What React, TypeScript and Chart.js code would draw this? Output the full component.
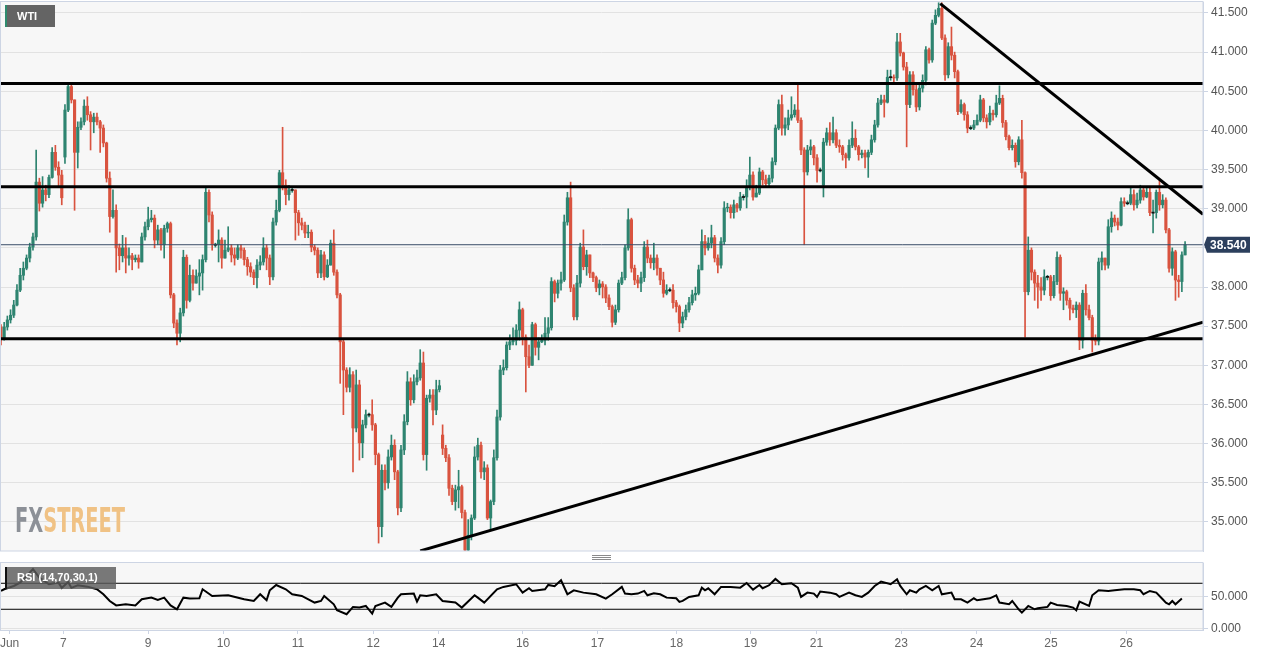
import React, { useEffect, useRef } from 'react';
import { Chart, registerables } from 'chart.js';
Chart.register(...registerables);

// ---------- DATA (hourly WTI candles) ----------
const firstOpen = 37.49;
const closes = [
  37.35,37.49,37.58,37.64,37.77,37.96,38.15,38.24,38.37,38.51,
  38.64,39.34,39.07,39.24,39.18,39.40,39.72,39.53,39.43,39.14,
  40.26,40.56,40.39,39.72,40.04,40.11,40.31,40.20,40.11,40.17,
  40.11,40.03,39.84,39.39,38.90,38.98,38.50,38.40,38.50,38.37,
  38.40,38.35,38.37,38.32,38.64,38.77,38.86,38.88,38.60,38.73,
  38.54,38.75,38.81,37.90,37.54,37.41,37.67,38.38,37.83,38.15,
  38.05,38.14,38.18,38.35,39.21,38.92,38.54,38.54,38.60,38.37,
  38.47,38.50,38.41,38.37,38.50,38.47,38.35,38.26,38.19,38.12,
  38.28,38.32,38.50,38.37,38.13,38.83,38.98,39.46,39.30,39.18,
  39.24,39.24,38.95,38.82,38.79,38.69,38.70,38.51,38.47,38.18,
  38.41,38.13,38.28,38.56,38.19,37.90,37.30,36.94,36.72,36.88,
  36.20,36.75,36.01,36.24,36.37,36.37,36.24,35.86,34.94,35.66,
  35.50,35.83,35.98,35.64,35.18,35.92,36.28,36.79,36.56,36.79,
  36.84,37.03,35.86,36.58,36.62,36.43,36.69,36.74,35.94,35.82,
  35.43,35.26,35.41,35.45,35.12,34.64,34.83,35.05,35.83,35.98,
  35.64,35.69,35.05,35.26,35.82,36.34,36.94,36.97,37.26,37.30,
  37.32,37.45,37.71,37.36,37.11,37.00,37.52,37.23,37.30,37.32,
  37.41,37.48,38.07,37.92,38.05,38.09,38.83,39.14,37.99,37.62,
  38.05,38.51,38.26,38.41,38.18,38.12,37.99,38.04,38.00,37.86,
  37.75,37.55,37.71,38.05,38.12,38.50,38.86,38.24,38.09,38.05,
  38.12,38.51,38.37,38.31,38.37,38.24,38.09,37.92,37.96,37.96,
  37.80,37.75,37.54,37.62,37.71,37.80,37.90,37.92,38.22,38.58,
  38.50,38.56,38.63,38.37,38.28,38.58,39.01,39.02,38.95,39.05,
  39.01,39.15,39.15,39.27,39.43,39.15,39.20,39.47,39.37,39.32,
  39.39,39.60,40.03,40.33,40.03,40.07,40.16,40.20,40.26,40.13,
  39.75,39.47,39.75,39.79,39.65,39.49,39.49,39.85,39.97,39.88,
  39.97,39.81,39.79,39.69,39.65,39.81,39.90,39.79,39.69,39.71,
  39.66,39.72,39.88,40.07,40.35,40.39,40.36,40.68,40.68,40.67,
  41.13,40.99,40.81,40.33,40.71,40.52,40.30,40.54,40.64,41.03,
  40.90,41.37,41.47,41.56,41.18,40.71,41.07,40.96,40.75,40.24,
  40.33,40.20,40.03,40.03,40.07,40.13,40.39,40.16,40.11,40.22,
  40.20,40.35,40.41,40.10,39.92,39.78,39.81,39.60,39.88,39.46,
  37.94,38.47,38.19,38.05,38.00,37.96,38.13,38.13,37.89,38.07,
  38.38,37.92,37.94,37.83,37.73,37.71,37.77,37.32,37.92,37.71,
  37.61,37.32,37.31,38.32,38.37,38.28,38.77,38.88,38.83,38.79,
  39.09,39.07,39.07,39.18,39.05,39.11,39.24,39.15,39.21,38.95,
  38.95,39.21,39.05,39.11,38.73,38.24,38.45,38.09,38.07,38.41,
  38.54,
];
const highs = [
  37.52,37.55,37.63,37.71,37.83,38.03,38.24,38.32,38.41,38.56,
  38.69,39.75,39.39,39.41,39.30,39.43,39.78,39.81,39.60,39.49,
  40.33,40.58,40.59,40.39,40.11,40.16,40.39,40.43,40.24,40.22,
  40.22,40.13,40.07,39.85,39.47,39.24,39.05,38.55,38.66,38.63,
  38.50,38.43,38.41,38.41,38.69,38.83,39.02,38.98,38.92,38.79,
  38.75,38.79,38.83,38.83,37.92,37.58,37.73,38.47,38.41,38.28,
  38.22,38.22,38.35,38.41,39.27,39.24,38.96,38.56,38.73,38.63,
  38.60,38.77,38.54,38.50,38.54,38.54,38.50,38.38,38.31,38.22,
  38.35,38.40,38.63,38.54,38.41,38.88,39.11,39.49,40.04,39.37,
  39.30,39.27,39.24,38.98,38.88,38.83,38.79,38.73,38.54,38.50,
  38.47,38.45,38.35,38.60,38.73,38.22,37.92,37.32,36.97,36.97,
  36.92,36.94,36.81,36.30,36.43,36.39,36.56,36.26,35.88,35.73,
  35.73,35.92,36.11,36.05,35.66,35.98,36.37,36.92,36.84,36.88,
  36.94,37.20,37.17,36.62,36.69,36.69,36.81,36.81,36.24,35.98,
  35.86,35.47,35.47,35.66,35.47,35.15,35.03,35.09,35.96,36.07,
  36.02,35.77,35.73,35.28,35.92,36.43,37.00,37.07,37.30,37.39,
  37.48,37.52,37.81,37.73,37.39,37.26,37.55,37.54,37.35,37.39,
  37.61,37.61,38.12,38.09,38.09,38.19,38.92,39.21,39.34,38.03,
  38.15,38.56,38.73,38.47,38.41,38.19,38.14,38.09,38.07,38.03,
  37.90,37.77,37.77,38.09,38.19,38.54,39.00,38.88,38.28,38.15,
  38.19,38.58,38.60,38.41,38.56,38.41,38.24,38.19,38.03,37.99,
  38.03,37.83,37.77,37.68,37.77,37.87,37.96,38.00,38.28,38.73,
  38.66,38.63,38.79,38.66,38.41,38.63,39.09,39.07,39.05,39.11,
  39.07,39.21,39.18,39.37,39.66,39.47,39.30,39.52,39.49,39.43,
  39.43,39.65,40.07,40.39,40.45,40.16,40.26,40.43,40.33,40.58,
  40.16,39.78,39.81,39.88,39.81,39.69,39.52,39.90,40.03,40.10,
  40.17,40.01,39.88,39.81,39.71,39.88,40.11,40.01,39.81,39.75,
  39.75,39.75,39.94,40.13,40.41,40.45,40.45,40.77,40.77,40.71,
  41.24,41.24,41.00,40.87,40.75,40.75,40.58,40.58,40.71,41.07,
  41.05,41.41,41.54,41.63,41.63,41.22,41.12,41.32,41.00,40.77,
  40.39,40.35,40.24,40.06,40.13,40.20,40.45,40.41,40.20,40.31,
  40.26,40.45,40.57,40.45,40.13,39.94,39.88,39.84,39.92,40.13,
  39.47,38.64,38.50,38.22,38.15,38.12,38.22,38.15,38.15,38.15,
  38.45,38.41,37.99,37.96,37.86,37.77,37.81,37.80,37.96,38.03,
  37.77,37.64,37.39,38.37,38.45,38.37,38.86,38.96,38.92,38.88,
  39.14,39.14,39.10,39.27,39.24,39.20,39.30,39.27,39.27,39.27,
  39.11,39.24,39.37,39.18,39.14,38.75,38.50,38.47,38.15,38.45,
  38.58,
];
const lows = [
  37.26,37.32,37.45,37.54,37.61,37.76,37.94,38.09,38.22,38.32,
  38.47,38.60,38.97,39.02,39.10,39.14,39.39,39.49,39.28,39.05,
  39.58,40.24,40.35,38.98,39.52,40.01,40.07,40.13,39.75,39.97,
  40.07,39.72,39.79,39.34,38.70,38.88,38.19,38.22,38.32,38.18,
  38.28,38.22,38.32,38.24,38.32,38.60,38.73,38.83,38.50,38.54,
  38.47,38.37,38.70,37.86,37.48,37.26,37.30,37.63,37.73,37.81,
  37.96,38.07,37.90,37.96,38.32,38.83,38.47,38.51,38.32,38.24,
  38.37,38.45,38.32,38.28,38.35,38.37,38.28,38.15,38.13,38.03,
  37.99,38.22,38.28,38.22,38.03,38.09,38.79,38.96,39.24,39.05,
  39.11,39.21,38.60,38.66,38.73,38.63,38.63,38.45,38.41,38.12,
  38.12,38.09,38.12,38.28,38.15,37.86,36.77,36.37,36.66,36.66,
  35.64,36.15,35.79,35.82,36.20,36.34,36.17,35.73,34.73,34.81,
  35.41,35.43,35.79,35.54,35.09,35.13,35.86,36.24,36.49,36.52,
  36.75,36.81,35.79,35.66,36.53,36.24,36.37,36.66,35.86,35.77,
  35.34,35.22,35.15,35.18,35.05,34.63,34.63,34.77,35.03,35.79,
  35.56,35.54,35.03,34.90,35.22,35.79,36.30,36.88,36.94,37.20,
  37.26,37.26,37.32,37.26,36.66,36.97,37.00,37.13,37.07,37.29,
  37.26,37.32,37.45,37.81,37.86,37.96,38.07,38.79,37.94,37.58,
  37.58,38.00,38.22,38.15,38.12,38.07,37.94,37.90,37.86,37.80,
  37.71,37.49,37.52,37.68,38.03,38.09,38.47,38.19,38.03,37.99,
  37.94,38.07,38.31,38.24,38.22,38.15,38.03,37.87,37.90,37.94,
  37.73,37.68,37.43,37.48,37.58,37.68,37.77,37.83,37.90,38.22,
  38.41,38.47,38.50,38.32,38.18,38.24,38.54,38.96,38.88,38.88,
  38.96,38.98,39.11,39.01,39.24,39.11,39.15,39.18,39.30,39.28,
  39.29,39.34,39.56,40.01,39.94,39.94,40.01,40.13,40.17,40.10,
  39.69,38.54,39.43,39.69,39.56,39.34,39.47,39.15,39.81,39.81,
  39.84,39.78,39.72,39.62,39.52,39.62,39.78,39.75,39.62,39.65,
  39.52,39.40,39.69,39.85,40.04,40.33,40.17,40.35,40.64,40.62,
  40.64,40.95,40.77,39.79,40.29,40.45,40.24,40.26,40.49,40.58,
  40.86,40.87,41.35,41.45,41.16,40.64,40.67,40.90,40.67,40.20,
  40.22,40.13,39.97,40.01,40.01,40.07,40.11,40.11,40.03,40.07,
  40.13,40.17,40.33,40.04,39.88,39.75,39.75,39.53,39.56,39.39,
  37.36,37.90,38.09,37.83,37.73,37.83,37.90,38.09,37.83,37.86,
  38.03,37.83,37.71,37.77,37.58,37.67,37.61,37.20,37.22,37.64,
  37.58,37.17,37.26,37.26,38.22,38.22,38.24,38.70,38.78,38.73,
  38.78,39.03,39.05,39.05,38.98,39.01,39.07,39.11,39.14,38.91,
  38.69,38.88,38.98,39.01,38.69,38.19,38.15,37.83,37.87,37.94,
  38.41,
];
// Weekly session opens that gap away from the previous close: [candle, open]
const sessionOpens: [number, number][] = [[20, 39.66], [138, 36.11], [257, 39.30]];

// Drawn levels and trend lines (candle index, price)
const levels = [40.60, 39.28, 37.34];
const downTrend: [number, number][] = [[293.5, 41.62], [375.6, 38.93]];
const upTrend: [number, number][] = [[131, 34.63], [375.6, 37.55]];

// RSI(14): [candle index, value]
const rsiPoints: [number, number][] = [
  [0,58.2],[1,60.8],[4,65.8],[6,70.9],[8,81.0],[10,92.0],[12,78.6],[15,68.5],[18,71.0],[19,63.0],
  [21,72.0],[22,63.0],[24,67.0],[27,64.8],[30,60.8],[32,53.0],[34,42.8],[36,36.0],[39,37.7],[42,36.0],
  [44,45.4],[47,47.9],[49,44.3],[51,47.9],[53,36.0],[55,30.0],[57,47.9],[59,46.4],[62,47.0],[63,60.8],[66,50.5],
  [71,51.5],[76,45.4],[79,42.8],[81,53.1],[83,43.8],[84,59.2],[86,67.4],[89,60.8],[91,53.1],[94,50.5],
  [98,40.3],[100,42.8],[101,50.5],[104,37.7],[105,28.5],[108,22.3],[110,33.6],[112,32.6],[114,35.1],[116,23.3],
  [117,35.1],[120,40.3],[122,33.6],[124,47.9],[125,53.1],[129,54.1],[130,41.8],[131,51.5],[133,50.5],[136,53.1],
  [138,42.8],[142,40.3],[144,32.6],[148,51.5],[149,47.9],[151,40.3],[155,60.8],[157,64.4],[161,68.5],[163,55.6],
  [165,62.3],[166,58.2],[170,60.8],[171,67.4],[173,65.4],[175,74.6],[177,53.1],[179,59.2],[182,55.6],[186,53.1],
  [189,46.4],[191,53.1],[194,64.4],[195,54.1],[197,53.1],[199,54.1],[201,58.2],[202,51.5],[204,54.6],[206,53.1],
  [208,47.9],[211,46.9],[212,41.3],[213,42.8],[215,49.0],[218,51.5],[219,63.3],[220,59.2],[221,62.3],[223,53.1],
  [225,64.4],[228,64.4],[231,63.3],[233,70.5],[235,60.3],[237,67.4],[238,62.3],[240,66.9],[242,76.7],[244,68.5],
  [247,70.0],[249,63.3],[250,49.0],[252,55.6],[254,54.1],[255,49.0],[256,57.2],[259,55.6],[261,53.1],[262,49.0],
  [265,55.6],[267,51.5],[269,49.0],[271,55.6],[273,65.9],[275,72.6],[278,68.5],[280,76.2],[281,65.9],[283,53.1],
  [284,59.2],[286,55.6],[287,60.8],[289,65.9],[291,59.2],[293,65.9],[294,53.1],[297,55.6],[298,45.4],[300,45.4],
  [302,40.3],[304,46.9],[305,43.8],[307,45.4],[309,46.9],[311,51.5],[312,40.3],[315,37.7],[316,42.8],[318,30.0],
  [319,24.9],[321,35.1],[323,30.0],[324,31.5],[327,33.6],[328,40.3],[330,36.7],[333,35.1],[335,32.6],[336,28.5],
  [337,41.8],[340,35.1],[341,51.5],[343,59.2],[346,58.2],[348,59.2],[351,60.8],[354,60.8],[356,59.2],[357,53.1],
  [359,58.2],[361,55.6],[363,45.4],[364,40.3],[365,37.7],[366,42.8],[367,37.7],[369,46.4],
];
const rsiBands = [70, 30];

// Time axis labels (candle index where each day label sits)
const dayTicks = [2.7, 19.5, 46, 69.5, 92.8, 116.3, 136.8, 163, 186.4, 211.1, 234.2, 254.8, 281.3, 304.8, 328.1, 351.6];
const dayLabels = ['Jun', '7', '9', '10', '11', '12', '14', '16', '17', '18', '19', '21', '23', '24', '25', '26'];

const rsiTicks = [0, 50];

// ---------- STYLE ----------
const UP = '#2e8470';
const DOWN = '#d9533f';
const DOJI = '#111111';
const PLOT_BG = '#f7f7f7';
const FRAME = '#cdd5e4';
const GRID = '#e2e2e2';
const FONT = '"Liberation Sans", Arial, sans-serif';
const X_MIN = -0.3;
const X_MAX = 375.6;

Chart.defaults.font.family = FONT;

const fitVertical = (s: any) => {
  s.width = 66;
  s.paddingTop = 0;
  s.paddingBottom = 0;
};

export default function App() {
  const mainRef = useRef<HTMLCanvasElement>(null);
  const rsiRef = useRef<HTMLCanvasElement>(null);

  useEffect(() => {
    const opens = closes.map((_, i) => (i === 0 ? firstOpen : closes[i - 1]));
    sessionOpens.forEach(([i, o]) => { opens[i] = o; });

    const bodyData = closes.map((c, i) => {
      const o = opens[i];
      if (Math.abs(o - c) < 0.005) return { x: i, y: [o - 0.007, o + 0.007] };
      return { x: i, y: [o, c] };
    });
    const bodyColors = closes.map((c, i) => {
      const o = opens[i];
      if (Math.abs(o - c) < 0.005) return DOJI;
      return c > o ? UP : DOWN;
    });
    const wickData = closes.map((c, i) => ({
      x: i,
      y: [Math.min(lows[i], opens[i], c), Math.max(highs[i], opens[i], c)],
    }));
    const wickColors = closes.map((c, i) => (c >= opens[i] ? UP : DOWN));
    const last = closes[closes.length - 1];

    const lineDs = (pts: { x: number; y: number }[], color: string, width: number, order: number) => ({
      type: 'line' as const,
      data: pts,
      borderColor: color,
      borderWidth: width,
      pointRadius: 0,
      tension: 0,
      fill: false,
      order,
    });

    const mainPlugin = {
      id: 'mainDecor',
      beforeDraw(chart: any) {
        const { ctx, chartArea: a } = chart;
        ctx.save();
        ctx.fillStyle = PLOT_BG;
        ctx.fillRect(a.left, a.top, a.right - a.left, a.bottom - a.top);
        ctx.restore();
      },
      beforeDatasetsDraw(chart: any) {
        const { ctx } = chart;
        ctx.save();
        ctx.font = 'bold 34px "Liberation Sans Narrow", "DejaVu Sans Condensed", "Liberation Sans", sans-serif';
        ctx.textBaseline = 'alphabetic';
        const wFX = ctx.measureText('FX').width;
        const wST = ctx.measureText('STREET').width;
        const sx = 110 / (wFX + wST);
        ctx.translate(15, 532);
        ctx.scale(sx, 1);
        ctx.fillStyle = '#8c9097';
        ctx.fillText('FX', 0, 0);
        ctx.fillStyle = '#f0c285';
        ctx.fillText('STREET', wFX, 0);
        ctx.restore();
      },
      afterDatasetsDraw(chart: any) {
        const { ctx } = chart;
        ctx.save();
        ctx.fillStyle = '#646464';
        ctx.fillRect(5, 5, 50, 22);
        ctx.fillStyle = '#2e8b6e';
        ctx.fillRect(5, 5, 2, 22);
        ctx.fillStyle = '#ffffff';
        ctx.font = 'bold 11px ' + FONT;
        ctx.textBaseline = 'middle';
        ctx.fillText('WTI', 17, 16.5);
        ctx.restore();
      },
      afterDraw(chart: any) {
        const { ctx, chartArea: a } = chart;
        ctx.save();
        ctx.strokeStyle = FRAME;
        ctx.lineWidth = 1;
        ctx.strokeRect(a.left + 0.5, a.top - 0.5, a.right - a.left - 0.5, a.bottom - a.top + 0.5);
        const y = chart.scales.y.getPixelForValue(last);
        ctx.fillStyle = '#2c3f5d';
        ctx.beginPath();
        ctx.moveTo(a.right + 1, y);
        ctx.lineTo(a.right + 4, y - 8);
        ctx.lineTo(a.right + 47, y - 8);
        ctx.lineTo(a.right + 47, y + 8);
        ctx.lineTo(a.right + 4, y + 8);
        ctx.closePath();
        ctx.fill();
        ctx.fillStyle = '#ffffff';
        ctx.font = 'bold 12px ' + FONT;
        ctx.textBaseline = 'middle';
        ctx.fillText(last.toFixed(3), a.right + 7, y + 0.5);
        ctx.restore();
      },
    };

    const main = new Chart(mainRef.current as HTMLCanvasElement, {
      type: 'bar',
      data: {
        datasets: [
          ...levels.map((lv) => lineDs([{ x: X_MIN, y: lv }, { x: X_MAX, y: lv }], '#000000', 3, 0)),
          lineDs(downTrend.map(([x, y]) => ({ x, y })), '#000000', 3, 0),
          lineDs(upTrend.map(([x, y]) => ({ x, y })), '#000000', 3, 0),
          lineDs([{ x: X_MIN, y: last }, { x: X_MAX, y: last }], '#3a4d68', 1, 1),
          {
            type: 'bar' as const,
            data: bodyData as any,
            backgroundColor: bodyColors,
            borderWidth: 0,
            barThickness: 2.5,
            grouped: false,
            order: 2,
          },
          {
            type: 'bar' as const,
            data: wickData as any,
            backgroundColor: wickColors,
            borderWidth: 0,
            barThickness: 1,
            grouped: false,
            order: 3,
          },
        ] as any,
      },
      options: {
        responsive: false,
        animation: false,
        devicePixelRatio: 1,
        layout: { padding: { top: 2, bottom: 1, left: 0, right: 0 } },
        plugins: { legend: { display: false }, tooltip: { enabled: false } },
        scales: {
          x: { type: 'linear', min: X_MIN, max: X_MAX, display: false, offset: false },
          y: {
            position: 'right',
            min: 34.629,
            max: 41.64,
            afterFit: fitVertical,
            ticks: {
              stepSize: 0.5,
              includeBounds: false,
              padding: 3,
              color: '#555555',
              font: { size: 12, family: FONT },
              callback: (v: any) => Number(v).toFixed(3),
            },
            grid: { color: GRID, tickColor: FRAME, tickLength: 5, drawTicks: true },
            border: { color: FRAME },
          },
        },
      } as any,
      plugins: [mainPlugin],
    });

    const rsiPlugin = {
      id: 'rsiDecor',
      beforeDraw(chart: any) {
        const { ctx, chartArea: a } = chart;
        ctx.save();
        ctx.fillStyle = PLOT_BG;
        ctx.fillRect(a.left, a.top, a.right - a.left, a.bottom - a.top);
        ctx.restore();
      },
      afterDatasetsDraw(chart: any) {
        const { ctx, chartArea: a } = chart;
        ctx.save();
        ctx.fillStyle = 'rgba(92,92,92,0.82)';
        ctx.fillRect(5, a.top + 4, 111, 22);
        ctx.fillStyle = '#111111';
        ctx.fillRect(5, a.top + 4, 2, 22);
        ctx.fillStyle = '#ffffff';
        ctx.font = 'bold 11px ' + FONT;
        ctx.textBaseline = 'middle';
        ctx.fillText('RSI (14,70,30,1)', 17, a.top + 15);
        ctx.restore();
      },
      afterDraw(chart: any) {
        const { ctx, chartArea: a } = chart;
        ctx.save();
        ctx.strokeStyle = FRAME;
        ctx.lineWidth = 1;
        ctx.strokeRect(a.left + 0.5, a.top - 0.5, a.right - a.left - 0.5, a.bottom - a.top + 1);
        ctx.restore();
      },
    };

    const rsi = new Chart(rsiRef.current as HTMLCanvasElement, {
      type: 'line',
      data: {
        datasets: [
          lineDs(rsiPoints.map(([x, y]) => ({ x, y })), '#000000', 2, 0),
          ...rsiBands.map((b) => lineDs([{ x: X_MIN, y: b }, { x: X_MAX, y: b }], '#000000', 1, 1)),
        ] as any,
      },
      options: {
        responsive: false,
        animation: false,
        devicePixelRatio: 1,
        layout: { padding: { top: 7, bottom: 0, left: 0, right: 0 } },
        plugins: { legend: { display: false }, tooltip: { enabled: false } },
        scales: {
          x: {
            type: 'linear',
            min: X_MIN,
            max: X_MAX,
            offset: false,
            afterBuildTicks: (s: any) => { s.ticks = dayTicks.map((v) => ({ value: v })); },
            afterFit: (s: any) => { s.height = 25; s.paddingLeft = 0; s.paddingRight = 0; },
            ticks: {
              autoSkip: false,
              maxRotation: 0,
              padding: 2,
              color: '#666666',
              font: { size: 12, family: FONT },
              callback: (v: any) => dayLabels[dayTicks.indexOf(Number(v))] ?? '',
            },
            grid: { drawOnChartArea: false, tickLength: 4, color: FRAME },
            border: { color: FRAME },
          },
          y: {
            position: 'right',
            min: -1.9,
            max: 101.2,
            afterBuildTicks: (s: any) => { s.ticks = rsiTicks.map((v) => ({ value: v })); },
            afterFit: fitVertical,
            ticks: {
              padding: 3,
              color: '#555555',
              font: { size: 12, family: FONT },
              callback: (v: any) => Number(v).toFixed(3),
            },
            grid: { color: GRID, tickColor: FRAME, tickLength: 5 },
            border: { color: FRAME },
          },
        },
      } as any,
      plugins: [rsiPlugin],
    });

    return () => {
      main.destroy();
      rsi.destroy();
    };
  }, []);

  return (
    <div style={{ position: 'fixed', left: 0, top: 0, width: 1269, height: 655, background: '#ffffff', overflow: 'hidden' }}>
      <canvas ref={mainRef} width={1269} height={552} style={{ position: 'absolute', left: 0, top: 0 }} />
      <div
        style={{
          position: 'absolute', left: 592, top: 555, width: 19, height: 3,
          borderTop: '1px solid #8a8a8a', borderBottom: '1px solid #8a8a8a',
        }}
      >
        <div style={{ marginTop: 1, borderTop: '1px solid #8a8a8a' }} />
      </div>
      <canvas ref={rsiRef} width={1269} height={99} style={{ position: 'absolute', left: 0, top: 556 }} />
    </div>
  );
}
